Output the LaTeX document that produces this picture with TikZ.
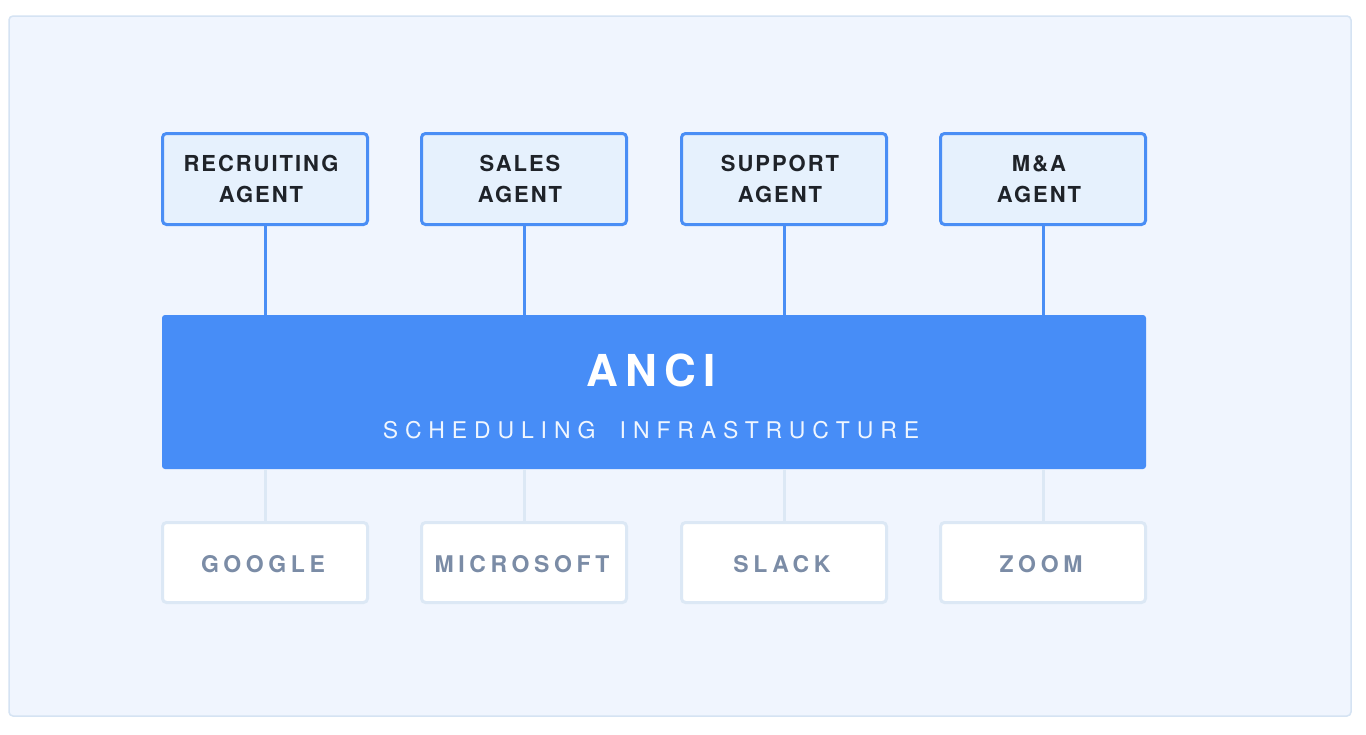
\documentclass[tikz,border=0pt]{standalone}
\usepackage{fontspec}
\setmainfont{TeX Gyre Heros}
\usetikzlibrary{positioning}
\definecolor{panelfill}{HTML}{F0F5FE}
\definecolor{panelline}{HTML}{D5E3F3}
\definecolor{agentblue}{HTML}{4A8EF5}
\definecolor{agentfill}{HTML}{E6F1FD}
\definecolor{barblue}{HTML}{478DF7}
\definecolor{linkgrey}{HTML}{DCE8F5}
\definecolor{appgrey}{HTML}{7B8CA6}
\definecolor{agenttext}{HTML}{1F2329}
% two lines, with a little trailing room like the tracked web text
\newcommand{\agentlabel}[2]{\begin{tabular}[b]{@{}c@{\kern8pt}}#1\\#2\end{tabular}}
\newcommand{\applabel}[1]{#1\kern4pt}
\tikzset{
  agentbox/.style={draw=agentblue,fill=agentfill,line width=3pt,rounded corners=4pt,
    minimum width=205pt,minimum height=91pt,inner sep=0pt,text=agenttext,
    text height=47pt,text depth=0pt,
    font=\fontsize{22}{31}\selectfont\bfseries\addfontfeature{LetterSpace=9}},
  appbox/.style={draw=linkgrey,fill=white,line width=3pt,rounded corners=4pt,
    minimum width=205pt,minimum height=80pt,inner sep=0pt,text=appgrey,
    text height=20pt,text depth=0pt,
    font=\fontsize{23}{26}\selectfont\bfseries\addfontfeature{LetterSpace=20}},
  uplink/.style={draw=agentblue,line width=3pt},
  downlink/.style={draw=linkgrey,line width=3pt}
}
\begin{document}
\begin{tikzpicture}[x=1pt,y=-1pt]
  \useasboundingbox (0,0) rectangle (1366,734);
  \fill[white] (0,0) rectangle (1366,734);
  \draw[panelline,fill=panelfill,line width=1.5pt,rounded corners=4pt] (9,16) rectangle (1351,716);

  % the agents
  \node[agentbox] (recruit) at (265,179) {\agentlabel{RECRUITING}{AGENT}};
  \node[agentbox] (sales) at (524,179) {\agentlabel{SALES}{AGENT}};
  \node[agentbox] (support) at (784,179) {\agentlabel{SUPPORT}{AGENT}};
  \node[agentbox] (mna) at (1043,179) {\agentlabel{M\&A}{AGENT}};

  % the scheduling layer
  \node[fill=barblue,rounded corners=3pt,minimum width=984pt,minimum height=154pt,inner sep=0pt]
    (anci) at (654,392) {};
  \node[anchor=base,text=white,inner sep=0pt,
    font=\fontsize{44}{44}\selectfont\bfseries\addfontfeature{LetterSpace=16}]
    (anciname) at (651,386) {ANCI};
  \node[anchor=base,text=white!92!barblue,inner sep=0pt,
    font=\fontsize{23}{23}\selectfont\addfontfeature{LetterSpace=30}]
    (ancisub) at (651,438.5) {SCHEDULING\hspace{11pt} INFRASTRUCTURE};

  % the calendars and apps
  \node[appbox] (google) at (265,562.5) {\applabel{GOOGLE}};
  \node[appbox] (microsoft) at (524,562.5) {\applabel{MICROSOFT}};
  \node[appbox] (slack) at (784,562.5) {\applabel{SLACK}};
  \node[appbox] (zoom) at (1043,562.5) {\applabel{ZOOM}};

  \draw[uplink] (recruit.south) -- (recruit |- anci.north);
  \draw[uplink] (sales.south) -- (sales |- anci.north);
  \draw[uplink] (support.south) -- (support |- anci.north);
  \draw[uplink] (mna.south) -- (mna |- anci.north);

  \draw[downlink] (google |- anci.south) -- (google.north);
  \draw[downlink] (microsoft |- anci.south) -- (microsoft.north);
  \draw[downlink] (slack |- anci.south) -- (slack.north);
  \draw[downlink] (zoom |- anci.south) -- (zoom.north);
\end{tikzpicture}
\end{document}
